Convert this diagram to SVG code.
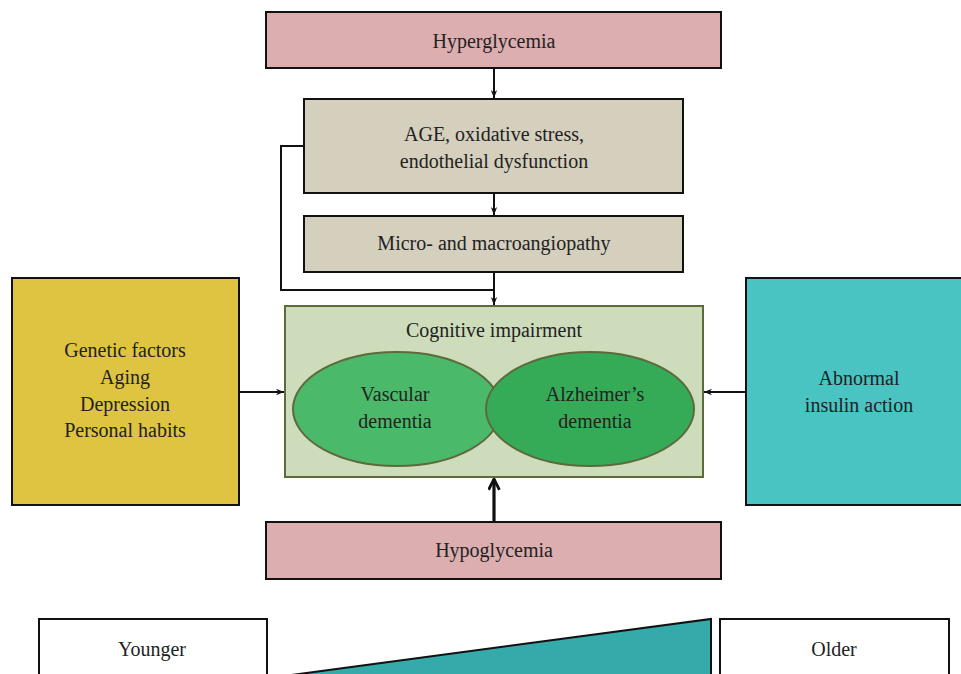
<svg xmlns="http://www.w3.org/2000/svg" width="961" height="674" viewBox="0 0 961 674">
<defs>
<style>
.box{stroke:#111;stroke-width:2}
.t{font-family:"Liberation Serif","Times New Roman",serif;font-size:20px;fill:#222;text-anchor:middle}
.c{fill:none;stroke:#111;stroke-width:2}
.e{stroke:#5c6a3c;stroke-width:2}
</style>
<marker id="ah" viewBox="0 0 10 10" refX="10" refY="5" markerWidth="8" markerHeight="8" orient="auto" markerUnits="userSpaceOnUse">
<path d="M0,1 L10,5 L0,9 L3,5 Z" fill="#111"/>
</marker>
<marker id="open" viewBox="0 0 12 12" refX="11" refY="6" markerWidth="13" markerHeight="13" orient="auto" markerUnits="userSpaceOnUse">
<path d="M1,1 L11,6 L1,11" fill="none" stroke="#111" stroke-width="2.6"/>
</marker>
</defs>
<rect width="961" height="674" fill="#fff"/>

<g id="connectors">
<line class="c" x1="494" y1="69" x2="494" y2="98" marker-end="url(#ah)"/>
<line class="c" x1="494" y1="194" x2="494" y2="215" marker-end="url(#ah)"/>
<line class="c" x1="494" y1="273" x2="494" y2="305" marker-end="url(#ah)"/>
<polyline class="c" points="304,146 281,146 281,290 494,290"/>
<line class="c" x1="240" y1="392" x2="284" y2="392" marker-end="url(#ah)"/>
<line class="c" x1="745" y1="392" x2="704" y2="392" marker-end="url(#ah)"/>
<line x1="494" y1="521" x2="494" y2="479" stroke="#111" stroke-width="3.2" marker-end="url(#open)"/>
</g>

<g id="hyperglycemia">
<rect class="box" x="266" y="12" width="455" height="56" fill="#dcaeb0"/>
<text class="t" x="494" y="48">Hyperglycemia</text>
</g>

<g id="age">
<rect class="box" x="304" y="99" width="379" height="94" fill="#d5cfbe"/>
<text class="t" x="494" y="141">AGE, oxidative stress,</text>
<text class="t" x="494" y="168">endothelial dysfunction</text>
</g>

<g id="angiopathy">
<rect class="box" x="304" y="216" width="379" height="56" fill="#d5cfbe"/>
<text class="t" x="494" y="250">Micro- and macroangiopathy</text>
</g>

<g id="cognitive">
<rect x="285" y="306" width="418" height="171" fill="#cddcba" stroke="#5c6a3c" stroke-width="2"/>
<text class="t" x="494" y="337">Cognitive impairment</text>
</g>

<g id="vascular">
<ellipse class="e" cx="397" cy="409" rx="104" ry="57" fill="#4aba6a"/>
<text class="t" x="395" y="401">Vascular</text>
<text class="t" x="395" y="428">dementia</text>
</g>

<g id="alzheimers">
<ellipse class="e" cx="590" cy="409" rx="104" ry="57" fill="#35ab58"/>
<text class="t" x="595" y="401">Alzheimer’s</text>
<text class="t" x="595" y="428">dementia</text>
</g>

<g id="factors">
<rect class="box" x="12" y="278" width="227" height="227" fill="#dfc442"/>
<text class="t" x="125" y="357">Genetic factors</text>
<text class="t" x="125" y="384">Aging</text>
<text class="t" x="125" y="411">Depression</text>
<text class="t" x="125" y="437">Personal habits</text>
</g>

<g id="insulin">
<rect class="box" x="746" y="278" width="220" height="227" fill="#4ac3c3"/>
<text class="t" x="859" y="385">Abnormal</text>
<text class="t" x="859" y="412">insulin action</text>
</g>

<g id="hypoglycemia">
<rect class="box" x="266" y="522" width="455" height="57" fill="#dcaeb0"/>
<text class="t" x="494" y="557">Hypoglycemia</text>
</g>

<g id="younger">
<rect class="box" x="39" y="619" width="228" height="70" fill="#fff"/>
<text class="t" x="152" y="656">Younger</text>
</g>

<g id="wedge">
<polygon points="284,676 711,619 711,676" fill="#34aaaa" stroke="#111" stroke-width="2"/>
</g>

<g id="older">
<rect class="box" x="720" y="619" width="229" height="70" fill="#fff"/>
<text class="t" x="834" y="656">Older</text>
</g>
</svg>
